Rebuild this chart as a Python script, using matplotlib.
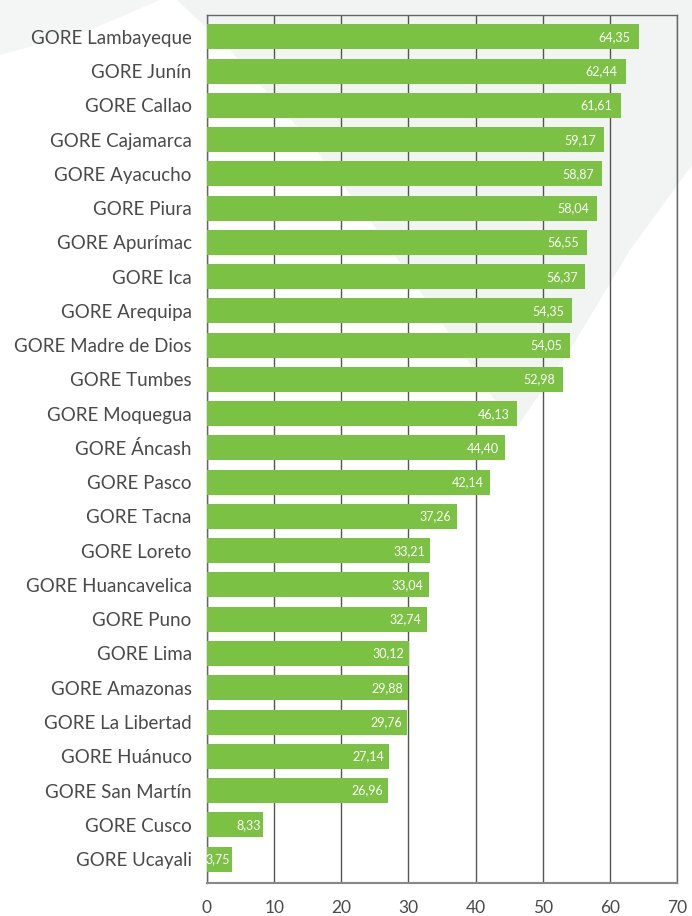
import matplotlib
matplotlib.use("Agg")
import matplotlib.pyplot as plt
from matplotlib.patches import Polygon

categories = ["GORE Lambayeque", "GORE Junín", "GORE Callao", "GORE Cajamarca",
              "GORE Ayacucho", "GORE Piura", "GORE Apurímac", "GORE Ica",
              "GORE Arequipa", "GORE Madre de Dios", "GORE Tumbes", "GORE Moquegua",
              "GORE Áncash", "GORE Pasco", "GORE Tacna", "GORE Loreto",
              "GORE Huancavelica", "GORE Puno", "GORE Lima", "GORE Amazonas",
              "GORE La Libertad", "GORE Huánuco", "GORE San Martín", "GORE Cusco",
              "GORE Ucayali"]
values = [64.35, 62.44, 61.61, 59.17, 58.87, 58.04, 56.55, 56.37, 54.35, 54.05,
          52.98, 46.13, 44.40, 42.14, 37.26, 33.21, 33.04, 32.74, 30.12, 29.88,
          29.76, 27.14, 26.96, 8.33, 3.75]
xticks = [0, 10, 20, 30, 40, 50, 60, 70]

plt.rcParams['font.family'] = ['Lato', 'DejaVu Sans']

W, H = 692, 916
fig = plt.figure(figsize=(W / 100, H / 100), dpi=100)
fig.patch.set_facecolor("white")


def px(pts):
    return [[x / W, 1 - yy / H] for x, yy in pts]


# faint decorative background shapes
lens = Polygon(px([(177, 0), (230, 50), (300, 130), (370, 220), (440, 320),
                   (515, 430), (570, 350), (630, 250), (692, 165), (692, 0)]),
               closed=True, transform=fig.transFigure, facecolor="#f2f3f3",
               edgecolor="none", zorder=-10)
corner = Polygon(px([(0, 0), (160, 0), (90, 30), (0, 55)]), closed=True,
                 transform=fig.transFigure, facecolor="#f4f5f5",
                 edgecolor="none", zorder=-10)
fig.add_artist(lens)
fig.add_artist(corner)

ax = fig.add_axes([207 / W, 1 - 883 / H, (677 - 207) / W, (883 - 15) / H])
ax.set_facecolor("none")
ax.set_zorder(1)

y = list(range(len(categories)))
ax.barh(y, values, height=0.73, color="#7bc143", zorder=3)
ax.set_ylim(24.7, -0.64)
ax.set_xlim(0, 70)
ax.set_xticks(xticks)
ax.set_xticklabels([str(t) for t in xticks])
ax.set_yticks(y)
ax.set_yticklabels(categories)

for yi, v in zip(y, values):
    ax.annotate(f"{v:.2f}".replace(".", ","), xy=(v, yi),
                xytext=(-(1.5 + 0.11 * v), 0), textcoords="offset pixels",
                ha="right", va="center", color="white", fontsize=9, zorder=4)

ax.grid(axis="x", color="#555555", linewidth=1.0, zorder=1)
ax.tick_params(axis="both", length=0)
ax.tick_params(axis="y", labelsize=13.5, pad=11, labelcolor="#4a4a4a")
ax.tick_params(axis="x", labelsize=12.5, pad=12, labelcolor="#4a4a4a")
for s in ["top", "right", "left"]:
    ax.spines[s].set_color("#666666")
    ax.spines[s].set_linewidth(1.0)
ax.spines["bottom"].set_color("#888888")
ax.spines["bottom"].set_linewidth(1.5)

fig.savefig("out.png", dpi=100)
